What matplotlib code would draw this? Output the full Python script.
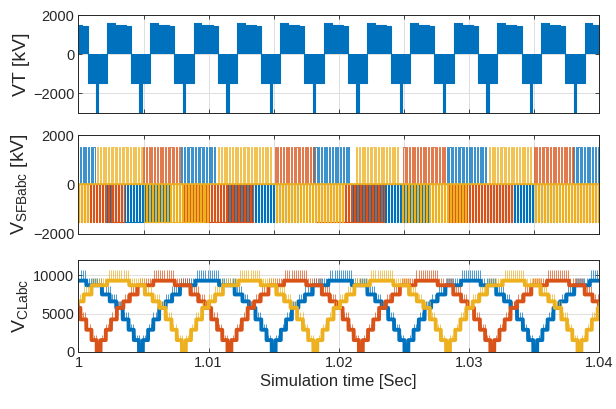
import numpy as np
import matplotlib
matplotlib.use("Agg")
import matplotlib.pyplot as plt

plt.rcParams['font.family'] = ['Liberation Sans', 'DejaVu Sans']
plt.rcParams['mathtext.fontset'] = 'custom'
plt.rcParams['mathtext.rm'] = 'Liberation Sans'
plt.rcParams['mathtext.it'] = 'Liberation Sans'

BLUE, RED, YELLOW = '#0072BD', '#D95319', '#EDB120'
INK = '#262626'
T_START = 1.0  # s

# ---------------- VT [kV]: one switching cycle repeated at the listed starts
vt_cycle_start_ms = [-1.15, 2.18, 5.51, 8.85, 12.2, 15.5, 18.85,
                     22.2, 25.5, 28.85, 32.2, 35.55, 38.9]
vt_edge_ms = [0.0, 0.60, 1.45, 1.85, 2.50, 2.68, 3.33]
vt_level_kv = [1570, 1510, 1450, -1450, -3300, -1480]

# ---------------- V_SFBabc [kV]: positive / negative switching windows (ms)
sfb_level_kv = 1500
sfb_pos_ms = {
    'a': [(-2.0, 1.3), (7.9, 10.6), (18.0, 21.0), (28.3, 31.4), (38.0, 41.0)],
    'b': [(4.9, 7.9), (15.0, 18.2), (24.9, 28.3), (34.9, 38.0)],
    'c': [(1.3, 4.9), (10.6, 15.0), (21.2, 24.7), (31.4, 34.9)],
}
sfb_neg_ms = {
    'a': [(2.0, 7.0), (11.5, 17.0), (21.0, 27.0), (31.4, 37.0)],
    'b': [(-2.0, 3.5), (7.9, 13.5), (18.2, 23.5), (28.3, 33.5), (38.0, 41.0)],
    'c': [(-3.0, 0.9), (4.9, 10.0), (15.0, 20.5), (24.7, 30.0), (34.9, 41.0)],
}

# ---------------- V_CLabc: staircase around each trough (ms)
vcl_trough_ms = {
    'a': [-5.2, 4.8, 15.0, 25.2, 35.1, 45.2],
    'b': [-8.55, 1.55, 11.6, 21.7, 31.8, 41.9],
    'c': [-2.0, 8.1, 18.2, 28.4, 38.5, 48.6],
}
vcl_band_ms = [0.0, 0.15, 0.55, 0.95, 1.40, 1.90, 2.40, 3.00, 4.20, 5.20]
vcl_band_level = [0, 1550, 2900, 4250, 5750, 6600, 7500, 8700, 9300]
vcl_band_ripple = [1450, 700, 800, 900, 900, 1000, 1100, 1000, 1400]

xtick_vals = [1.0, 1.01, 1.02, 1.03, 1.04]
xtick_labels = ['1', '1.01', '1.02', '1.03', '1.04']

phase_colors = {'a': BLUE, 'b': RED, 'c': YELLOW}


def ms_to_s(x):
    return T_START + np.asarray(x) / 1000.0


def vt_series():
    t, v = [], []
    for s in vt_cycle_start_ms:
        for e, lv in zip(vt_edge_ms[:-1], vt_level_kv):
            t.append(s + e)
            v.append(lv)
    t.append(vt_cycle_start_ms[-1] + vt_edge_ms[-1])
    v.append(vt_level_kv[-1])
    return ms_to_s(t), np.array(v, float)


def pulse_events(windows, level, ts, duty, shift):
    ev = []
    for a, b in windows:
        for x in np.arange(a + shift, b - ts * duty, ts):
            ev.append((x, level))
            ev.append((x + ts * duty, 0.0))
    return ev


def sfb_series(windows, level, ts, duty, shift):
    ev = [(-4.0, 0.0)] + pulse_events(windows, level, ts, duty, shift) + [(42.0, 0.0)]
    ev.sort(key=lambda p: p[0])
    t = np.array([p[0] for p in ev])
    v = np.array([p[1] for p in ev])
    return ms_to_s(t), v


def vcl_profile(key, t_ms):
    tr = np.array(vcl_trough_ms[key])
    d = np.min(np.abs(t_ms[:, None] - tr[None, :]), axis=1)
    idx = np.clip(np.searchsorted(vcl_band_ms, d, side='right') - 1,
                  0, len(vcl_band_level) - 1)
    return np.array(vcl_band_level)[idx], np.array(vcl_band_ripple)[idx]


fig = plt.figure(figsize=(6.16, 4.09), dpi=100)
L, W = 0.1274, 0.845
ax1 = fig.add_axes([L, 0.7237, W, 0.2396])
ax2 = fig.add_axes([L, 0.4279, W, 0.2420])
ax3 = fig.add_axes([L, 0.1394, W, 0.2250])

# --- VT
t, v = vt_series()
ax1.fill_between(t, 0, v, step='post', color=BLUE, lw=0, zorder=2)
ax1.step(t, v, where='post', color=BLUE, lw=0.8, zorder=2)
ax1.set_ylim(-3000, 2000)
ax1.set_yticks([-2000, 0, 2000])
ax1.set_ylabel('VT [kV]', fontsize=14, color=INK, labelpad=2)

# --- V_SFBabc
for key, shift in (('a', 0.0), ('b', 0.07), ('c', 0.13)):
    t, v = sfb_series(sfb_neg_ms[key], -sfb_level_kv, 0.23, 0.40, shift * 1.3)
    ax2.plot(t, v, drawstyle='steps-post', color=phase_colors[key], lw=0.8, zorder=2)
for key, shift in (('a', 0.0), ('b', 0.07), ('c', 0.13)):
    t, v = sfb_series(sfb_pos_ms[key], sfb_level_kv, 0.21, 0.40, shift)
    ax2.plot(t, v, drawstyle='steps-post', color=phase_colors[key], lw=0.55, zorder=2)
ax2.axhline(0, color=YELLOW, lw=1.2, zorder=2)
ax2.set_ylim(-2000, 2000)
ax2.set_yticks([-2000, 0, 2000])
ax2.set_ylabel(r'V$_{\mathregular{SFBabc}}$ [kV]', fontsize=14, color=INK, labelpad=2)

# --- V_CLabc
t_ms = np.arange(-0.5, 40.5, 0.005)
tick_ms = np.arange(0.0, 40.0, 0.16)
for key, shift in (('a', 0.0), ('b', 0.05), ('c', 0.10)):
    lvl, _ = vcl_profile(key, t_ms)
    ax3.plot(ms_to_s(t_ms), lvl, color=phase_colors[key], lw=2.8, zorder=2)
    tk = tick_ms + shift
    lo, rp = vcl_profile(key, tk)
    ax3.vlines(ms_to_s(tk), lo, lo + rp, color=phase_colors[key], lw=0.7,
               alpha=0.7, zorder=2)
ax3.set_ylim(0, 12000)
ax3.set_yticks([0, 5000, 10000])
ax3.set_ylabel(r'V$_{\mathregular{CLabc}}$', fontsize=14, color=INK, labelpad=2)
ax3.set_xlabel('Simulation time [Sec]', fontsize=12, color=INK, labelpad=3)

for ax in (ax1, ax2, ax3):
    ax.set_xlim(1.0, 1.04)
    ax.grid(True, color='#dedede', lw=0.7, zorder=0)
    ax.set_axisbelow(True)
    ax.tick_params(direction='in', length=3, width=0.6, top=True, right=True,
                   colors=INK, labelsize=10.5, pad=3)
    for s in ax.spines.values():
        s.set_color(INK)
        s.set_linewidth(0.7)

for ax in (ax1, ax2):
    ax.set_xticks(np.arange(1.0, 1.0401, 0.005))
    ax.set_xticklabels([])
ax3.set_xticks(xtick_vals)
ax3.set_xticklabels(xtick_labels)

fig.savefig('out.png', dpi=100)
